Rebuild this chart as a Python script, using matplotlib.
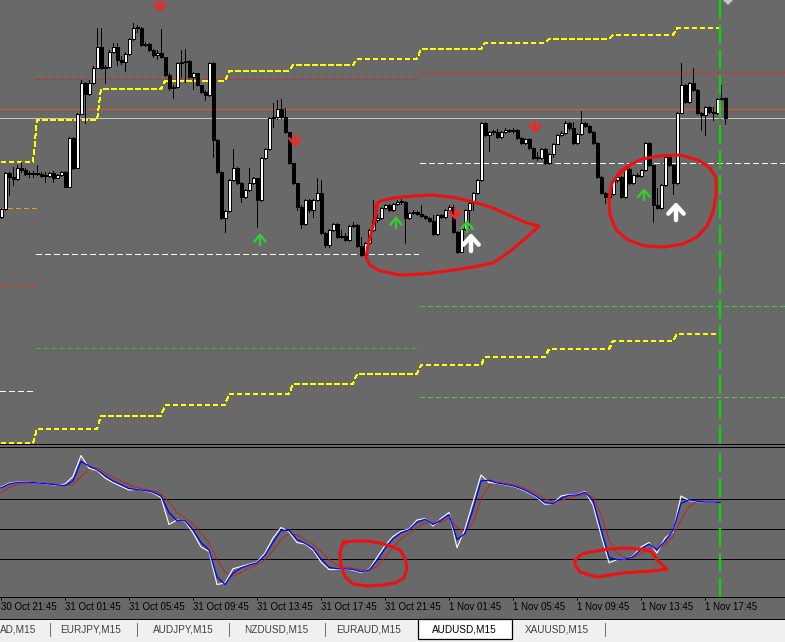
import numpy as np
import matplotlib
matplotlib.use("Agg")
import matplotlib.pyplot as plt
from matplotlib.patches import Rectangle, Polygon
from matplotlib.lines import Line2D

plt.rcParams['font.family'] = ['Liberation Sans', 'DejaVu Sans']
plt.rcParams['lines.scale_dashes'] = False

# ---- AUDUSD M15 prices, in points (1 point = 0.00001) ----
first_open = 76783
closes = [
    76791, 76827, 76823, 76821, 76832, 76830, 76826, 76826, 76827, 76826,
    76824, 76824, 76827, 76822, 76825, 76828, 76813, 76862, 76832, 76886,
    76917, 76906, 76917, 76932, 76953, 76932, 76933, 76948, 76953, 76940,
    76938, 76946, 76961, 76972, 76972, 76955, 76956, 76950, 76945, 76947,
    76943, 76925, 76912, 76913, 76937, 76938, 76939, 76923, 76927, 76915,
    76908, 76905, 76937, 76860, 76828, 76782, 76789, 76820, 76832, 76817,
    76803, 76810, 76817, 76822, 76800, 76842, 76851, 76882, 76883, 76891,
    76883, 76868, 76837, 76817, 76793, 76776, 76800, 76790, 76800, 76807,
    76767, 76755, 76770, 76776, 76763, 76764, 76760, 76774, 76775, 76754,
    76745, 76757, 76770, 76780, 76782, 76792, 76795, 76790, 76796, 76798,
    76798, 76782, 76787, 76788, 76786, 76784, 76782, 76779, 76766, 76785,
    76783, 76790, 76793, 76768, 76748, 76771, 76790, 76797, 76807, 76820,
    76877, 76865, 76868, 76868, 76863, 76868, 76870, 76869, 76870, 76862,
    76857, 76861, 76852, 76842, 76842, 76851, 76837, 76846, 76856, 76865,
    76867, 76877, 76872, 76857, 76866, 76877, 76874, 76868, 76857, 76823,
    76807, 76803, 76806, 76820, 76823, 76803, 76831, 76817, 76825, 76824,
    76830, 76857, 76835, 76795, 76792, 76815, 76843, 76835, 76817, 76887,
    76915, 76898, 76917, 76910, 76887, 76885, 76893, 76888, 76887, 76901,
    76902, 76882]
highs = [
    76792, 76828, 76828, 76833, 76835, 76838, 76832, 76829, 76829, 76835,
    76828, 76828, 76828, 76829, 76826, 76829, 76829, 76863, 76863, 76887,
    76920, 76918, 76920, 76934, 76972, 76972, 76935, 76950, 76957, 76957,
    76944, 76948, 76962, 76977, 76975, 76973, 76958, 76957, 76951, 76950,
    76971, 76943, 76927, 76915, 76938, 76950, 76951, 76940, 76928, 76927,
    76915, 76910, 76938, 76938, 76861, 76829, 76790, 76821, 76851, 76833,
    76818, 76811, 76832, 76823, 76822, 76843, 76852, 76883, 76897, 76900,
    76901, 76892, 76868, 76837, 76817, 76795, 76801, 76801, 76801, 76822,
    76820, 76768, 76771, 76777, 76777, 76770, 76767, 76775, 76778, 76776,
    76763, 76758, 76771, 76800, 76786, 76793, 76796, 76796, 76797, 76800,
    76801, 76799, 76788, 76790, 76789, 76795, 76785, 76783, 76785, 76786,
    76786, 76791, 76795, 76795, 76769, 76772, 76791, 76800, 76808, 76821,
    76878, 76878, 76869, 76870, 76871, 76869, 76872, 76871, 76872, 76871,
    76863, 76862, 76862, 76853, 76848, 76852, 76852, 76847, 76857, 76866,
    76869, 76879, 76878, 76878, 76867, 76889, 76878, 76875, 76869, 76858,
    76824, 76808, 76807, 76821, 76824, 76824, 76832, 76832, 76826, 76827,
    76831, 76858, 76858, 76835, 76812, 76816, 76844, 76844, 76836, 76888,
    76937, 76916, 76918, 76932, 76911, 76888, 76894, 76894, 76893, 76902,
    76915, 76903]
lows = [
    76782, 76790, 76805, 76815, 76820, 76828, 76825, 76823, 76823, 76825,
    76823, 76818, 76823, 76818, 76822, 76824, 76813, 76817, 76831, 76832,
    76886, 76877, 76905, 76916, 76932, 76931, 76917, 76932, 76947, 76935,
    76936, 76929, 76945, 76960, 76968, 76954, 76954, 76949, 76943, 76941,
    76942, 76924, 76910, 76902, 76912, 76923, 76918, 76922, 76911, 76914,
    76907, 76900, 76904, 76843, 76827, 76781, 76768, 76788, 76819, 76816,
    76798, 76802, 76809, 76816, 76773, 76799, 76841, 76850, 76873, 76881,
    76882, 76867, 76836, 76816, 76790, 76772, 76775, 76788, 76783, 76799,
    76766, 76753, 76753, 76769, 76762, 76762, 76759, 76759, 76773, 76753,
    76744, 76745, 76756, 76769, 76778, 76781, 76791, 76789, 76789, 76795,
    76796, 76757, 76781, 76786, 76785, 76783, 76781, 76778, 76765, 76765,
    76782, 76782, 76789, 76767, 76747, 76748, 76770, 76773, 76790, 76806,
    76819, 76864, 76849, 76866, 76862, 76862, 76867, 76868, 76867, 76861,
    76856, 76856, 76851, 76841, 76840, 76841, 76836, 76836, 76843, 76856,
    76864, 76866, 76870, 76856, 76856, 76865, 76873, 76867, 76856, 76822,
    76806, 76797, 76801, 76805, 76818, 76802, 76802, 76816, 76816, 76823,
    76823, 76829, 76834, 76778, 76791, 76791, 76814, 76834, 76806, 76816,
    76887, 76897, 76897, 76909, 76886, 76870, 76865, 76887, 76880, 76886,
    76900, 76876]

# 4-hour trailing levels (one value per H4 block) and bars per block
block_bars = [9, 16, 16, 16, 16, 16, 16, 16, 16, 16, 16, 12]
upper_trail = [76838, 76880, 76911, 76919, 76929, 76935, 76941, 76951, 76957, 76961, 76965, 76972]
lower_trail = [76557, 76571, 76584, 76595, 76606, 76616, 76626, 76635, 76643, 76651, 76659, 76666]

# daily levels (points)
day0_levels = [76792, 76714, 76609]
day1_levels = [76921, 76746, 76652]
day2_levels = [76928, 76837, 76694, 76603]
ask_line = 76891
bid_line = 76882

# signal arrows: bar index and price of arrow tip
sell_arrow_bar = [39.75, 73.5, 113.5, 133.5]
sell_arrow_tip = [76988, 76853, 76780, 76867]
buy_arrow_bar = [64.75, 98.75, 116.5, 160.75]
buy_arrow_tip = [76767, 76784, 76780, 76812]
big_arrow_bar = [117.5, 168.75]
big_arrow_tip = [76767, 76798]

# oscillator (sampled every second bar)
osc_bars = list(range(0, 181, 2))
osc_white = [
    78, 80.5, 81.3, 81.5, 81, 80.5, 79.8, 79, 80, 85,
    99, 90.5, 89, 84, 81, 78.5, 76, 76.5, 75.5, 74,
    71, 53, 56, 55, 47.5, 38, 35, 13, 14, 23.5,
    25, 26.5, 28, 34, 44, 51, 48, 41, 40, 36,
    28, 23, 23, 23.5, 22.5, 21, 23, 31, 39, 45,
    48.5, 50, 56, 57, 52, 57, 61, 37.5, 50, 68,
    86, 81, 80.5, 79.5, 78.5, 76.5, 74, 71, 66.5, 67,
    72, 73, 73, 75, 66, 46, 27.5, 29.5, 30, 32,
    38, 41, 34, 44, 48, 72, 69, 68.2, 68, 68,
    67.5]
osc_blue = [
    77.5, 80, 81, 81.3, 81, 80.5, 80, 79.3, 79, 82,
    95, 92, 89.5, 85.5, 82, 79.5, 77, 76.3, 75.7, 74.5,
    72, 61, 55.5, 55.5, 49.5, 41, 36, 18, 13, 20.5,
    24, 26, 27.5, 32.5, 41, 49, 49, 43, 40.5, 37,
    30, 24.5, 23.5, 23.5, 23, 21.5, 22.5, 29, 37, 43.5,
    47.5, 49.5, 54.5, 56.5, 53, 56, 59.5, 43, 47, 63,
    82, 82.5, 80.7, 79.8, 78.8, 77, 74.5, 71.5, 67.5, 67,
    70.5, 72.5, 72.7, 74.5, 69, 50, 31, 29.5, 30, 31.5,
    36.5, 40, 36, 42, 49, 67, 69.5, 68.5, 68, 68,
    67.5]
osc_red = [
    74, 77.5, 79.5, 80.5, 80.8, 80.7, 80.3, 79.8, 79.3, 79.5,
    85, 89.5, 91, 87.5, 84.5, 82, 79.5, 77.5, 76.5, 75.5,
    73.5, 68, 61, 57.5, 53.5, 47, 41, 30, 21, 18.5,
    21, 24, 26, 29.5, 35.5, 43, 47, 46, 43, 40,
    35, 29.5, 26, 24.5, 24, 23, 22.5, 25, 31, 38,
    43.5, 47, 51, 54, 54, 54.5, 57, 51, 48.5, 54,
    70, 79, 81, 80.5, 79.5, 78, 76, 73.5, 70, 68.5,
    69, 71, 72, 73, 71.5, 60, 43, 34, 31, 31,
    33.5, 37, 37, 39.5, 45, 56, 65, 68, 68.3, 68.2,
    68]
osc_levels = [70, 50, 30]

# hand-drawn marks (bar, price points) and (bar, oscillator)
mark_a_bar = [94, 93.75, 92.75, 91.75, 91.25, 92.25, 94.75, 99.75, 105.5, 111.5, 118, 123,
              125.25, 128, 131.5, 134.5, 131.5, 128, 123, 119, 114, 108, 103, 98, 94.75, 93.5]
mark_a_pts = [76796, 76785, 76770, 76755, 76743, 76735, 76729, 76725, 76726, 76729, 76733, 76737,
              76743, 76751, 76763, 76774, 76777, 76783, 76792, 76797, 76802, 76805, 76804, 76802,
              76799, 76794]
mark_b_bar = [154.25, 156.75, 160.25, 164.75, 169.75, 174.25, 177.25, 178.75, 178.75, 178, 176.5,
              174, 170.5, 166, 161, 156.75, 153.75, 152.25, 152, 152.75, 154.75, 157.25]
mark_b_pts = [76825, 76834, 76841, 76844, 76845, 76840, 76832, 76822, 76805, 76788, 76774,
              76763, 76756, 76753, 76754, 76760, 76770, 76785, 76802, 76817, 76828, 76835]
mark_c_bar = [85.5, 88.5, 91.5, 94.75, 97.25, 99.75, 101, 101.5, 100.75, 98.5, 95.5, 91.75,
              88, 86, 85, 84.75, 85.25, 86.5]
mark_c_val = [41.3, 42, 42, 40.7, 38.7, 36, 30.7, 24, 17.3, 14, 12.7, 12,
              13.3, 18, 25.3, 34, 39.3, 41.5]
mark_d_bar = [143.5, 145.25, 147.25, 152.25, 155.5, 159.75, 162.75, 164, 166.5, 163, 155.5,
              149, 144.75, 143.5]
mark_d_val = [29.3, 33.3, 34.7, 36.7, 37.3, 36.7, 34.7, 29.3, 23.3, 22, 20.7, 18, 21.3, 26]

now_bar = 179.75
tick_bars = list(range(0, 177, 16))
tick_labels = ["30 Oct 21:45", "31 Oct 01:45", "31 Oct 05:45", "31 Oct 09:45", "31 Oct 13:45",
               "31 Oct 17:45", "31 Oct 21:45", "1 Nov 01:45", "1 Nov 05:45", "1 Nov 09:45",
               "1 Nov 13:45", "1 Nov 17:45"]
tab_names = ["AD,M15", "EURJPY,M15", "AUDJPY,M15", "NZDUSD,M15", "EURAUD,M15",
             "AUDUSD,M15", "XAUUSD,M15"]
tab_centers = [18, 91, 183, 276, 369, 464, 557]
active_tab = "AUDUSD,M15"

BG = '#696969'
W, H = 785, 642

fig = plt.figure(figsize=(W / 100, H / 100), dpi=100, facecolor=BG)
ax = fig.add_axes([0, 198 / H, 1, 444 / H])
axi = fig.add_axes([0, 45 / H, 1, 150 / H])

for a in (ax, axi):
    a.set_facecolor(BG)
    a.set_xlim(-0.25, 196)
    for s in a.spines.values():
        s.set_color('black')
        s.set_linewidth(0.72)
    a.spines['left'].set_visible(False)
    a.spines['right'].set_visible(False)
ax.spines['top'].set_visible(False)
ax.set_ylim(0.76556, 0.77000)
axi.set_ylim(4.667, 104.667)
ax.set_xticks([])
ax.set_yticks([])
axi.set_yticks([])

P = 1e5
c = np.array(closes) / P
o = np.concatenate([[first_open], closes[:-1]]) / P   # each bar opens at the previous close
hi = np.array(highs) / P
lo = np.array(lows) / P
x = np.arange(len(c))

# levels
thin = 0.5
seg = [(-0.25, 8.75), (8.75, 104.25), (104.75, 196)]
dash_a = (0, (2.9, 2.2))
dash_w = (0, (3.6, 2.2))
day_colors = [['#ff9a00', '#ff2424', '#ffffff'],
              ['#d42a22', '#ffffff', '#2fbf4f'],
              ['#ff1e1e', '#ffffff', '#2fcf4a', '#52c25c']]
for (x0, x1), lv, cols in zip(seg, [day0_levels, day1_levels, day2_levels], day_colors):
    for v, col in zip(lv, cols):
        ax.hlines(v / P, x0, x1, colors=col, linewidth=thin, antialiased=False,
                  linestyles=[dash_w if col == '#ffffff' else dash_a], zorder=1)

ax.axhline(ask_line / P, color='#e6562b', lw=thin, antialiased=False, zorder=1)
ax.axhline(bid_line / P, color='#c8c8c8', lw=thin, antialiased=False, zorder=1)

tb = np.arange(sum(block_bars))
for trail in (upper_trail, lower_trail):
    ax.plot(tb, np.repeat(trail, block_bars) / P, color='#ffff00', lw=thin,
            dashes=(2.9, 2.2), antialiased=False, zorder=1)

# candles
up = c >= o
ax.vlines(x, lo, hi, color='black', lw=0.72, antialiased=False, zorder=3)
body_lo = np.minimum(o, c)
body_h = np.maximum(np.abs(c - o), 0.8 / P)
ax.bar(x[up], body_h[up], bottom=body_lo[up], width=0.75, color='white',
       edgecolor='black', linewidth=0.72, antialiased=False, zorder=4)
ax.bar(x[~up], body_h[~up], bottom=body_lo[~up], width=0.75, color='black',
       edgecolor='black', linewidth=0.72, antialiased=False, zorder=4)

# arrows
def arrow(b, tip, dy, col, lw, hl, hw):
    ax.annotate('', xy=(b, tip / P), xytext=(0, dy), textcoords='offset points',
                arrowprops=dict(arrowstyle='->,head_length=%s,head_width=%s' % (hl, hw),
                                color=col, lw=lw, shrinkA=0, shrinkB=0), zorder=6)

for b, t in zip(sell_arrow_bar, sell_arrow_tip):
    arrow(b, t, 8.6, '#ff2020', 1.7, 0.5, 0.42)
for b, t in zip(buy_arrow_bar, buy_arrow_tip):
    arrow(b, t, -8.6, '#33cc33', 1.7, 0.5, 0.42)
for b, t in zip(big_arrow_bar, big_arrow_tip):
    arrow(b, t, -13, '#ffffff', 3.2, 0.6, 0.55)

# hand-drawn circles
red_pen = dict(color='#f01010', lw=2.2, solid_joinstyle='round', solid_capstyle='round', zorder=7)
ax.plot(mark_a_bar, np.array(mark_a_pts) / P, **red_pen)
ax.plot(mark_b_bar + mark_b_bar[:1], np.array(mark_b_pts + mark_b_pts[:1]) / P, **red_pen)

# oscillator
for lv in osc_levels:
    axi.axhline(lv, color='black', lw=0.72, antialiased=False, zorder=1)
axi.plot(osc_bars, osc_red, color='#c0201c', lw=0.6, zorder=2)
axi.plot(osc_bars, osc_white, color='white', lw=0.8, zorder=3)
axi.plot(osc_bars, osc_blue, color='#0000ff', lw=0.9, zorder=4)
axi.plot(mark_c_bar, mark_c_val, **red_pen)
axi.plot(mark_d_bar + mark_d_bar[:1], mark_d_val + mark_d_val[:1], **red_pen)

for a in (ax, axi):
    a.axvline(now_bar, color='#00e000', lw=1.44, dashes=(13, 5), antialiased=False, zorder=8)

axi.set_xticks(tick_bars)
axi.set_xticklabels(tick_labels, ha='left')
axi.tick_params(axis='x', direction='out', length=2.2, width=0.72, color='black',
                pad=1.5, labelsize=7, labelcolor='black')

# chart shift marker
fig.patches.append(Polygon([(723 / W, 1), (733 / W, 1), (728 / W, 1 - 5 / H)], closed=True,
                           transform=fig.transFigure, facecolor='#c8c8c8', edgecolor='none'))

# tab bar
fig.patches.append(Rectangle((0, 0), 1, 23 / H, transform=fig.transFigure,
                             facecolor='#f0f0f0', edgecolor='none'))
fig.lines.append(Line2D([0, 1], [23 / H, 23 / H], transform=fig.transFigure,
                        color='black', lw=0.72))
fig.patches.append(Rectangle((418 / W, 3 / H), 94 / W, 20 / H, transform=fig.transFigure,
                             facecolor='white', edgecolor='black', lw=0.9))
for sx in [50, 137, 229, 325, 605]:
    fig.lines.append(Line2D([sx / W, sx / W], [6 / H, 19 / H], transform=fig.transFigure,
                            color='#707070', lw=0.72))
for name, cx in zip(tab_names, tab_centers):
    fig.text(cx / W, 13 / H, name, ha='center', va='center', fontsize=7.2,
             color='black' if name == active_tab else '#404040')

fig.savefig('out.png', dpi=100, facecolor=BG)
